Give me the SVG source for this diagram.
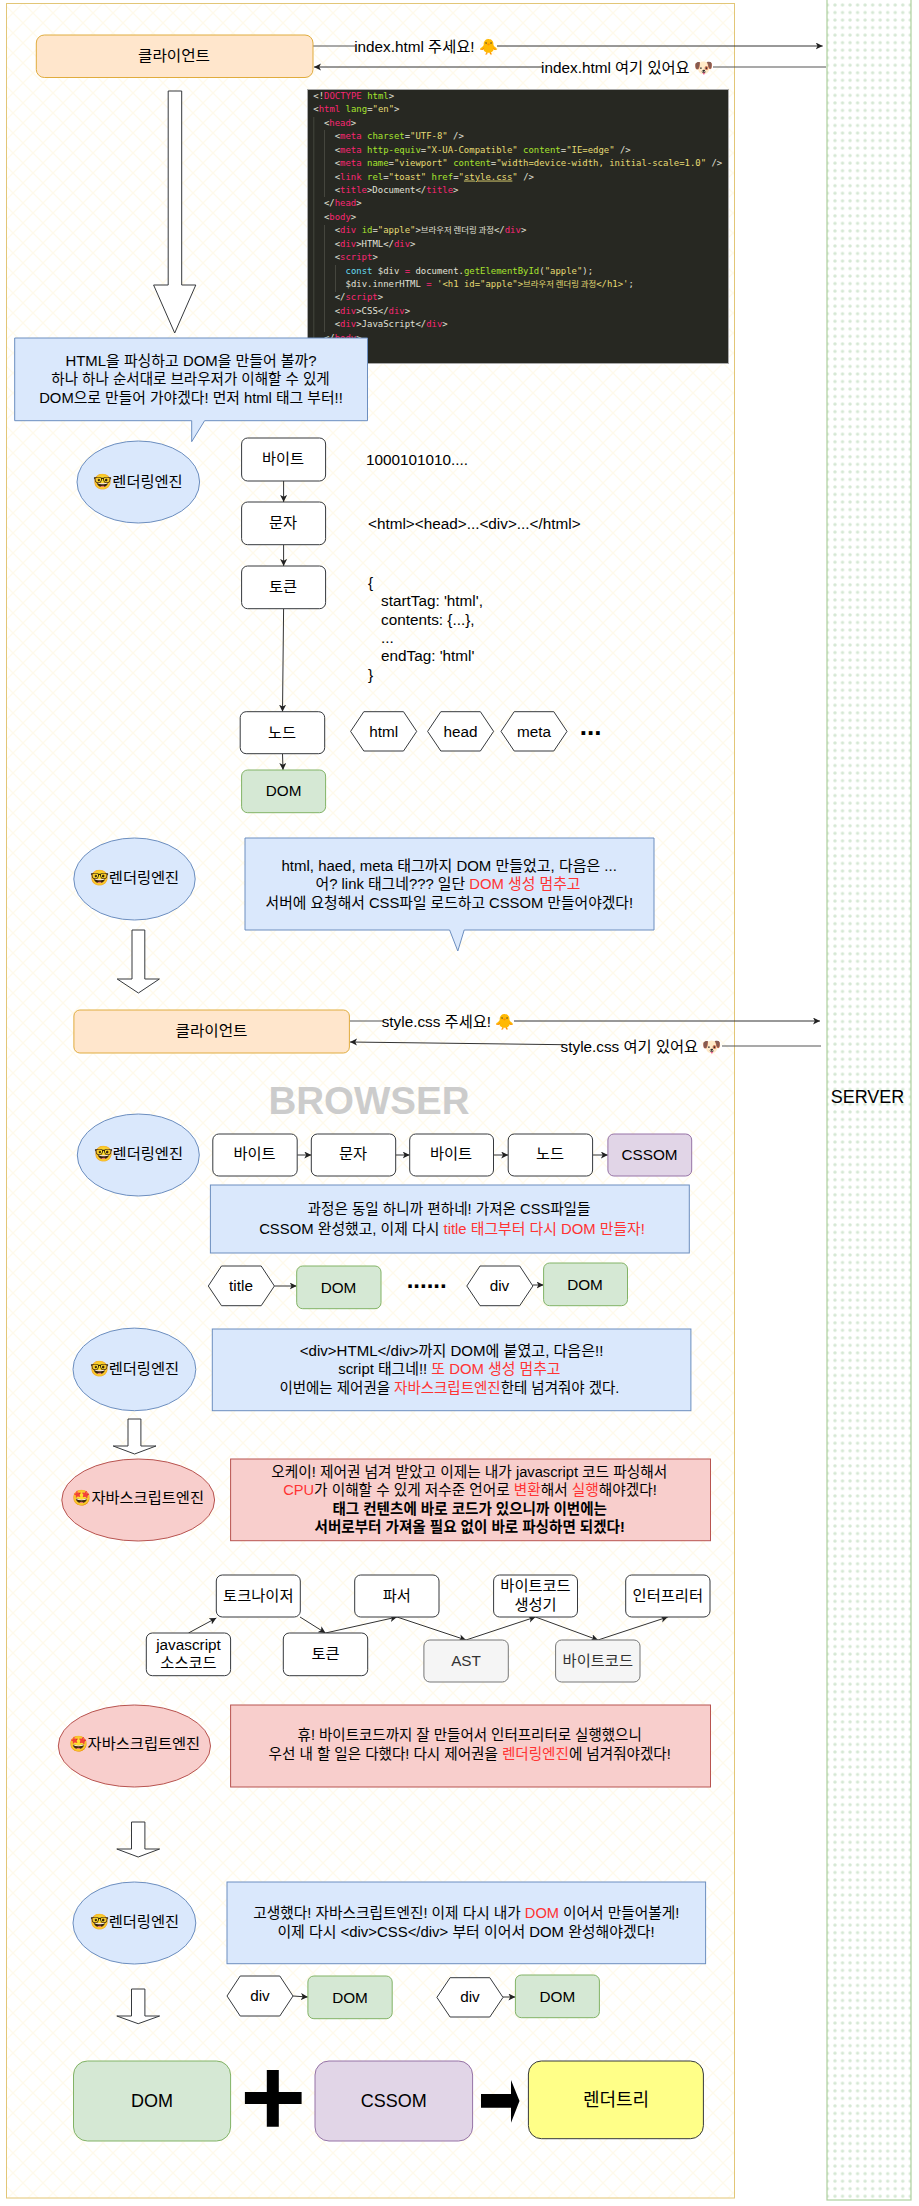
<svg xmlns="http://www.w3.org/2000/svg" width="919" height="2206" viewBox="0 0 919 2206">
<style>
text{font-family:"Liberation Sans","Noto Sans CJK KR",sans-serif;font-size:15.3px;fill:#000;text-anchor:middle}
.l{text-anchor:start}
.r{fill:#ff3333}
.b{font-weight:bold}
.box{fill:#fff;stroke:#36393d;stroke-width:1}
.blue{fill:#dae8fc;stroke:#6c8ebf;stroke-width:1}
.red{fill:#f8cecc;stroke:#b85450;stroke-width:1}
.green{fill:#d5e8d4;stroke:#82b366;stroke-width:1}
.purple{fill:#e1d5e7;stroke:#9673a6;stroke-width:1}
.orange{fill:#ffe6cc;stroke:#e0ac3e;stroke-width:1}
.grey{fill:#f5f5f5;stroke:#777;stroke-width:1}
.hex{fill:#fff;stroke:#36393d;stroke-width:1}
.ba{fill:#fff;stroke:#36393d;stroke-width:1}
.cn{fill:none;stroke:#333;stroke-width:1;marker-end:url(#ah)}
.pl{fill:none;stroke:#555;stroke-width:1.2}
.code text{font-family:"DejaVu Sans Mono","Noto Sans CJK KR",monospace;font-size:8.95px;fill:#e0e0d8;text-anchor:start}
.code .t{fill:#f92672}.code .a{fill:#a6e22e}.code .s{fill:#e6db74}.code .k{fill:#66d9ef}.code .ko{font-size:8.4px;font-family:"Noto Sans CJK KR",sans-serif;fill:#e0e0d8}.code .kos{font-size:8.4px;font-family:"Noto Sans CJK KR",sans-serif;fill:#e6db74}
.guide{stroke:#45463e;stroke-width:1}
</style>
<defs>
<marker id="ah" markerUnits="userSpaceOnUse" markerWidth="8" markerHeight="8" refX="7" refY="3.5" orient="auto"><path d="M0,0 L7,3.5 L0,7 L1.8,3.5z" fill="#222"/></marker>
<pattern id="hatch" patternUnits="userSpaceOnUse" x="3" y="3" width="20" height="20"><path d="M0,0 L20,20 M20,0 L0,20" stroke="#fffaeb" stroke-width="1.3" fill="none"/></pattern>
<pattern id="dots" patternUnits="userSpaceOnUse" x="823.7" y="1.25" width="7.53" height="7.53"><circle cx="3.76" cy="3.76" r="1.7" fill="#d5e8d4"/></pattern>
</defs>

<g id="browser-frame"><rect x="6.5" y="3.5" width="728" height="2194.5" fill="#fff"/><rect x="6.5" y="3.5" width="728" height="2194.5" fill="url(#hatch)" stroke="#e2c677" stroke-width="1"/></g>
<g id="server"><rect x="827" y="-2" width="84" height="2202" fill="#fff"/><rect x="827" y="-2" width="84" height="2202" fill="url(#dots)" stroke="#aed09e" stroke-width="1.2"/><text x="867.5" y="1103" style="font-size:18px">SERVER</text></g>
<g id="browser-label"><text class="b" x="369" y="1113.5" style="font-size:38.5px;fill:#cccccc">BROWSER</text></g>

<g id="code-block" class="code">
<rect x="307.5" y="89.5" width="421" height="274" fill="#272822" stroke="#aaa" stroke-width="1"/>
<path class="guide" d="M313.8,117V351M324.5,130V197M324.5,225V332M335.5,265V292"/>
<text x="313.3" y="99"><tspan>&lt;!</tspan><tspan class="t">DOCTYPE</tspan> <tspan class="a">html</tspan>&gt;</text>
<text x="313.3" y="112.4">&lt;<tspan class="t">html</tspan> <tspan class="a">lang</tspan>=<tspan class="s">"en"</tspan>&gt;</text>
<text x="323.9" y="125.9">&lt;<tspan class="t">head</tspan>&gt;</text>
<text x="334.7" y="139.3">&lt;<tspan class="t">meta</tspan> <tspan class="a">charset</tspan>=<tspan class="s">"UTF-8"</tspan> /&gt;</text>
<text x="334.7" y="152.7">&lt;<tspan class="t">meta</tspan> <tspan class="a">http-equiv</tspan>=<tspan class="s">"X-UA-Compatible"</tspan> <tspan class="a">content</tspan>=<tspan class="s">"IE=edge"</tspan> /&gt;</text>
<text x="334.7" y="166.2">&lt;<tspan class="t">meta</tspan> <tspan class="a">name</tspan>=<tspan class="s">"viewport"</tspan> <tspan class="a">content</tspan>=<tspan class="s">"width=device-width, initial-scale=1.0"</tspan> /&gt;</text>
<text x="334.7" y="179.6">&lt;<tspan class="t">link</tspan> <tspan class="a">rel</tspan>=<tspan class="s">"toast"</tspan> <tspan class="a">href</tspan>=<tspan class="s">"<tspan text-decoration="underline">style.css</tspan>"</tspan> /&gt;</text>
<text x="334.7" y="193">&lt;<tspan class="t">title</tspan>&gt;Document&lt;/<tspan class="t">title</tspan>&gt;</text>
<text x="323.9" y="206.4">&lt;/<tspan class="t">head</tspan>&gt;</text>
<text x="323.9" y="219.9">&lt;<tspan class="t">body</tspan>&gt;</text>
<text x="334.7" y="233.3">&lt;<tspan class="t">div</tspan> <tspan class="a">id</tspan>=<tspan class="s">"apple"</tspan>&gt;<tspan class="ko">브라우저 렌더링 과정</tspan>&lt;/<tspan class="t">div</tspan>&gt;</text>
<text x="334.7" y="246.7">&lt;<tspan class="t">div</tspan>&gt;HTML&lt;/<tspan class="t">div</tspan>&gt;</text>
<text x="334.7" y="260.2">&lt;<tspan class="t">script</tspan>&gt;</text>
<text x="345.5" y="273.6"><tspan class="k">const</tspan> $div <tspan class="t">=</tspan> document.<tspan class="a">getElementById</tspan>(<tspan class="s">"apple"</tspan>);</text>
<text x="345.5" y="287">$div.innerHTML <tspan class="t">=</tspan> <tspan class="s">'&lt;h1 id="apple"&gt;</tspan><tspan class="kos">브라우저 렌더링 과정</tspan><tspan class="s">&lt;/h1&gt;'</tspan>;</text>
<text x="334.7" y="300.4">&lt;/<tspan class="t">script</tspan>&gt;</text>
<text x="334.7" y="313.9">&lt;<tspan class="t">div</tspan>&gt;CSS&lt;/<tspan class="t">div</tspan>&gt;</text>
<text x="334.7" y="327.3">&lt;<tspan class="t">div</tspan>&gt;JavaScript&lt;/<tspan class="t">div</tspan>&gt;</text>
<text x="323.9" y="340.7">&lt;/<tspan class="t">body</tspan>&gt;</text>
</g>

<g id="connectors">
<path class="pl" d="M313,46H355"/><path class="cn" d="M497,46H822.7"/>
<path class="pl" d="M826,67H713"/><path class="cn" d="M542,67H314"/>
<path class="pl" d="M349.4,1021H383"/><path class="cn" d="M514,1021H820"/>
<path class="pl" d="M821,1046H722"/><path class="cn" d="M563,1044.7L350,1042"/>
<path class="cn" d="M283.6,481V502"/><path class="cn" d="M283.6,544.7V566"/><path class="cn" d="M283.6,608.7L282.5,711.7"/><path class="cn" d="M282.5,753.7L283,770"/>
<path class="cn" d="M297.2,1155H311.3"/><path class="cn" d="M395.7,1155H409.7"/><path class="cn" d="M493.5,1155H508.2"/><path class="cn" d="M592.6,1155H607.9"/>
<path class="cn" d="M274.4,1286H296.7"/><path class="cn" d="M532.9,1285H543.6"/>
<path class="cn" d="M188.5,1633L216.3,1618"/><path class="cn" d="M300,1617L325.5,1633"/><path class="cn" d="M325.5,1633L397,1617"/><path class="cn" d="M397,1617L466,1640"/><path class="cn" d="M466,1640L535.5,1617"/><path class="cn" d="M535.5,1617L598,1640"/><path class="cn" d="M598,1640L667.8,1617"/>
<path class="cn" d="M293,1996L307.9,1997"/><path class="cn" d="M503,1997H515.4"/>
</g>

<g id="req-labels">
<text x="426" y="51.5">index.html 주세요! 🐥</text>
<text x="627" y="72.5">index.html 여기 있어요 🐶</text>
<text x="448" y="1027">style.css 주세요! 🐥</text>
<text x="641" y="1052">style.css 여기 있어요 🐶</text>
</g>

<g id="client-1"><rect class="orange" x="36.3" y="35" width="276.7" height="42.5" rx="8"/><text x="174" y="61" textLength="72" lengthAdjust="spacingAndGlyphs">클라이언트</text></g>
<g id="arrow-1"><path class="ba" d="M168.2,91H181.7V285H195.8L174.7,333L153.6,285H168.2Z"/></g>
<g id="callout-1"><path class="blue" d="M14.7,338H367.5V420.7H204.6L191.7,441.7V420.7H14.7Z"/><text x="191" y="366" textLength="251" lengthAdjust="spacingAndGlyphs">HTML을 파싱하고 DOM을 만들어 볼까?</text><text x="190.5" y="384" textLength="278.4" lengthAdjust="spacingAndGlyphs">하나 하나 순서대로 브라우저가 이해할 수 있게</text><text x="191" y="402.5" textLength="303.6" lengthAdjust="spacingAndGlyphs">DOM으로 만들어 가야겠다! 먼저 html 태그 부터!!</text></g>

<g id="engine-1"><ellipse class="blue" cx="138.3" cy="482" rx="61.3" ry="41"/><text x="138" y="487">🤓렌더링엔진</text></g>
<g id="byte-1"><rect class="box" x="241.6" y="438" width="84" height="43" rx="6"/><text x="283" y="464">바이트</text></g>
<g id="char-1"><rect class="box" x="241.6" y="502" width="84" height="42.7" rx="6"/><text x="283" y="528">문자</text></g>
<g id="token-1"><rect class="box" x="241.6" y="566" width="84" height="42.7" rx="6"/><text x="283" y="592">토큰</text></g>
<g id="node-1"><rect class="box" x="240.2" y="711.7" width="84.5" height="42" rx="6"/><text x="282" y="737.5">노드</text></g>
<g id="dom-1"><rect class="green" x="241.6" y="770" width="84" height="42.7" rx="6"/><text x="283.6" y="796">DOM</text></g>
<g id="sample-text">
<text class="l" x="366" y="464.5">1000101010....</text>
<text class="l" x="368" y="528.5">&lt;html&gt;&lt;head&gt;...&lt;div&gt;...&lt;/html&gt;</text>
<text class="l" x="368" y="588">{</text>
<text class="l" x="381" y="606">startTag: 'html',</text>
<text class="l" x="381" y="624.5">contents: {...},</text>
<text class="l" x="381" y="643">...</text>
<text class="l" x="381" y="661">endTag: 'html'</text>
<text class="l" x="368" y="679.5">}</text>
</g>
<g id="hex-html"><path class="hex" d="M350.6,731.4L363.8,711.7H403.5L416.7,731.4L403.5,751H363.8Z"/><text x="383.6" y="736.5">html</text></g>
<g id="hex-head"><path class="hex" d="M427.6,731.4L440.8,711.7H480.4L493.6,731.4L480.4,751H440.8Z"/><text x="460.6" y="736.5">head</text></g>
<g id="hex-meta"><path class="hex" d="M501,731.4L514.2,711.7H553.8L567,731.4L553.8,751H514.2Z"/><text x="534" y="736.5">meta</text></g>
<g id="more-1"><text class="b" x="590.7" y="735" style="font-size:26px">...</text></g>

<g id="engine-2"><ellipse class="blue" cx="134.5" cy="879" rx="60.7" ry="41"/><text x="134.5" y="883">🤓렌더링엔진</text></g>
<g id="callout-2"><path class="blue" d="M245,838H654V930H464.2L457.8,951L449.6,930H245Z"/>
<text x="449.2" y="871" textLength="335.3" lengthAdjust="spacingAndGlyphs">html, haed, meta 태그까지 DOM 만들었고, 다음은 ...</text>
<text x="448" y="888.5" textLength="265" lengthAdjust="spacingAndGlyphs">어? link 태그네??? 일단 <tspan class="r">DOM 생성 멈추고</tspan></text>
<text x="449.3" y="908" textLength="367.5" lengthAdjust="spacingAndGlyphs">서버에 요청해서 CSS파일 로드하고 CSSOM 만들어야겠다!</text></g>
<g id="arrow-2"><path class="ba" d="M132,930H144.8V979H159.4L138.4,993L117.2,979H132Z"/></g>
<g id="client-2"><rect class="orange" x="73.9" y="1010" width="275.5" height="43" rx="6"/><text x="211.5" y="1036" textLength="72" lengthAdjust="spacingAndGlyphs">클라이언트</text></g>

<g id="engine-3"><ellipse class="blue" cx="138.3" cy="1155" rx="61" ry="41"/><text x="138.3" y="1158.5">🤓렌더링엔진</text></g>
<g id="byte-2"><rect class="box" x="212.8" y="1134" width="84.4" height="42" rx="6"/><text x="254.5" y="1158.5">바이트</text></g>
<g id="char-2"><rect class="box" x="311.3" y="1134" width="84.4" height="42" rx="6"/><text x="353" y="1158.5">문자</text></g>
<g id="byte-3"><rect class="box" x="409.7" y="1134" width="83.8" height="42" rx="6"/><text x="451" y="1158.5">바이트</text></g>
<g id="node-2"><rect class="box" x="508.2" y="1134" width="84.4" height="42" rx="6"/><text x="550" y="1158.5">노드</text></g>
<g id="cssom-1"><rect class="purple" x="607.9" y="1134" width="83.8" height="42" rx="6"/><text x="649.5" y="1159.5">CSSOM</text></g>
<g id="note-3"><rect class="blue" x="210.4" y="1185" width="478.9" height="68"/>
<text x="449" y="1214" textLength="283" lengthAdjust="spacingAndGlyphs">과정은 동일 하니까 편하네! 가져온 CSS파일들</text>
<text x="452" y="1233.5" textLength="385.7" lengthAdjust="spacingAndGlyphs">CSSOM 완성했고, 이제 다시 <tspan class="r">title 태그부터 다시 DOM 만들자!</tspan></text></g>
<g id="hex-title"><path class="hex" d="M208.3,1286L221.5,1266H261.2L274.4,1286L261.2,1305.7H221.5Z"/><text x="241" y="1290.5">title</text></g>
<g id="dom-2"><rect class="green" x="296.7" y="1266" width="84.3" height="42.7" rx="6"/><text x="338.5" y="1292.5">DOM</text></g>
<g id="more-2"><text class="b" x="426.7" y="1288" style="font-size:24px">......</text></g>
<g id="hex-div-1"><path class="hex" d="M466.8,1286L480,1266H519.7L532.9,1286L519.7,1305.7H480Z"/><text x="499.5" y="1290.5">div</text></g>
<g id="dom-3"><rect class="green" x="543.6" y="1263" width="83.9" height="42.7" rx="6"/><text x="585" y="1289.5">DOM</text></g>

<g id="engine-4"><ellipse class="blue" cx="134.4" cy="1369.4" rx="61.4" ry="41.3"/><text x="134.4" y="1373.5">🤓렌더링엔진</text></g>
<g id="note-4"><rect class="blue" x="212.3" y="1329" width="478.6" height="81.7"/>
<text x="451.6" y="1356" textLength="303.6" lengthAdjust="spacingAndGlyphs">&lt;div&gt;HTML&lt;/div&gt;까지 DOM에 붙였고, 다음은!!</text>
<text x="449.4" y="1374" textLength="222.3" lengthAdjust="spacingAndGlyphs">script 태그네!! <tspan class="r">또 DOM 생성 멈추고</tspan></text>
<text x="449.4" y="1392.5" textLength="340" lengthAdjust="spacingAndGlyphs">이번에는 제어권을 <tspan class="r">자바스크립트엔진</tspan>한테 넘겨줘야 겠다.</text></g>
<g id="arrow-3"><path class="ba" d="M128,1419H140.9V1446H156L134.6,1454L113.2,1446H128Z"/></g>
<g id="js-engine-1"><ellipse class="red" cx="138.2" cy="1500" rx="76.4" ry="41"/><text x="138.2" y="1503">🤩자바스크립트엔진</text></g>
<g id="note-5"><rect class="red" x="230.6" y="1459" width="479.9" height="81.7"/>
<text x="469.2" y="1476.5" textLength="396" lengthAdjust="spacingAndGlyphs">오케이! 제어권 넘겨 받았고 이제는 내가 javascript 코드 파싱해서</text>
<text x="470" y="1494.5" textLength="373.7" lengthAdjust="spacingAndGlyphs"><tspan class="r">CPU</tspan>가 이해할 수 있게 저수준 언어로 <tspan class="r">변환</tspan>해서 <tspan class="r">실행</tspan>해야겠다!</text>
<text class="b" x="469.7" y="1513.5" textLength="274.6" lengthAdjust="spacingAndGlyphs">태그 컨텐츠에 바로 코드가 있으니까 이번에는</text>
<text class="b" x="469.7" y="1532" textLength="310.3" lengthAdjust="spacingAndGlyphs">서버로부터 가져올 필요 없이 바로 파싱하면 되겠다!</text></g>

<g id="tokenizer"><rect class="box" x="216.3" y="1575" width="84" height="42" rx="6"/><text x="258.3" y="1600.5">토크나이저</text></g>
<g id="parser"><rect class="box" x="354.7" y="1575" width="84.3" height="42" rx="6"/><text x="396.8" y="1600.5">파서</text></g>
<g id="bytecode-gen"><rect class="box" x="493.6" y="1575" width="83.9" height="42" rx="6"/><text x="535.5" y="1591">바이트코드</text><text x="535.5" y="1610">생성기</text></g>
<g id="interpreter"><rect class="box" x="625.7" y="1575" width="84.3" height="42" rx="6"/><text x="667.8" y="1600.5">인터프리터</text></g>
<g id="js-source"><rect class="box" x="146.3" y="1633" width="84.3" height="42.7" rx="6"/><text x="188.5" y="1650">javascript</text><text x="188.5" y="1668">소스코드</text></g>
<g id="token-2"><rect class="box" x="283.3" y="1633" width="84.4" height="42.7" rx="6"/><text x="325.5" y="1658.5">토큰</text></g>
<g id="ast"><rect class="grey" x="423.9" y="1640" width="84.4" height="42" rx="6"/><text x="466" y="1666" style="fill:#333">AST</text></g>
<g id="bytecode"><rect class="grey" x="555.6" y="1640" width="84.4" height="42" rx="6"/><text x="597.8" y="1665.5" style="fill:#333">바이트코드</text></g>

<g id="js-engine-2"><ellipse class="red" cx="134.4" cy="1746" rx="76.1" ry="41"/><text x="134.4" y="1749">🤩자바스크립트엔진</text></g>
<g id="note-6"><rect class="red" x="230.6" y="1705" width="479.9" height="82"/>
<text x="469.7" y="1740" textLength="344.2" lengthAdjust="spacingAndGlyphs">휴! 바이트코드까지 잘 만들어서 인터프리터로 실행했으니</text>
<text x="469.7" y="1759" textLength="402.2" lengthAdjust="spacingAndGlyphs">우선 내 할 일은 다했다! 다시 제어권을 <tspan class="r">렌더링엔진</tspan>에 넘겨줘야겠다!</text></g>
<g id="arrow-4"><path class="ba" d="M131.5,1822H144.9V1849H159.6L138.2,1857L116.8,1849H131.5Z"/></g>
<g id="engine-5"><ellipse class="blue" cx="134.4" cy="1923" rx="61.4" ry="41"/><text x="134.4" y="1926.5">🤓렌더링엔진</text></g>
<g id="note-7"><rect class="blue" x="227" y="1882" width="478.6" height="81.7"/>
<text x="466.3" y="1917.5" textLength="425.9" lengthAdjust="spacingAndGlyphs">고생했다! 자바스크립트엔진! 이제 다시 내가 <tspan class="r">DOM</tspan> 이어서 만들어볼게!</text>
<text x="466" y="1936.5" textLength="377.2" lengthAdjust="spacingAndGlyphs">이제 다시 &lt;div&gt;CSS&lt;/div&gt; 부터 이어서 DOM 완성해야겠다!</text></g>
<g id="arrow-5"><path class="ba" d="M131.5,1989H144.9V2016H159.6L138.2,2023.7L116.8,2016H131.5Z"/></g>
<g id="hex-div-2"><path class="hex" d="M227,1996L240.2,1976H279.8L293,1996L279.8,2016H240.2Z"/><text x="260" y="2001">div</text></g>
<g id="dom-4"><rect class="green" x="307.9" y="1976" width="84.3" height="42.7" rx="6"/><text x="350" y="2002.5">DOM</text></g>
<g id="hex-div-3"><path class="hex" d="M436.9,1997.4L450.1,1977.7H489.8L503,1997.4L489.8,2017H450.1Z"/><text x="470" y="2002">div</text></g>
<g id="dom-5"><rect class="green" x="515.4" y="1975" width="84" height="42.7" rx="6"/><text x="557.4" y="2001.5">DOM</text></g>

<g id="dom-final"><rect class="green" x="73.5" y="2061" width="157.1" height="80" rx="14"/><text x="152" y="2106.5" style="font-size:18px">DOM</text></g>
<g id="plus"><path fill="#000" d="M266.8,2070H278.8V2092H301.6V2104H278.8V2126.7H266.8V2104H244.9V2092H266.8Z"/></g>
<g id="cssom-final"><rect class="purple" x="315" y="2061" width="157.6" height="80" rx="14"/><text x="393.8" y="2106.5" style="font-size:18px">CSSOM</text></g>
<g id="arrow-final"><path fill="#000" d="M481,2094H511V2080L519.5,2101L511,2122.7V2107.7H481Z"/></g>
<g id="render-tree"><rect x="528.4" y="2061" width="175" height="77.7" rx="13" fill="#ffff88" stroke="#36393d" stroke-width="1"/><text x="616" y="2105.5" style="font-size:18px">렌더트리</text></g>
</svg>
